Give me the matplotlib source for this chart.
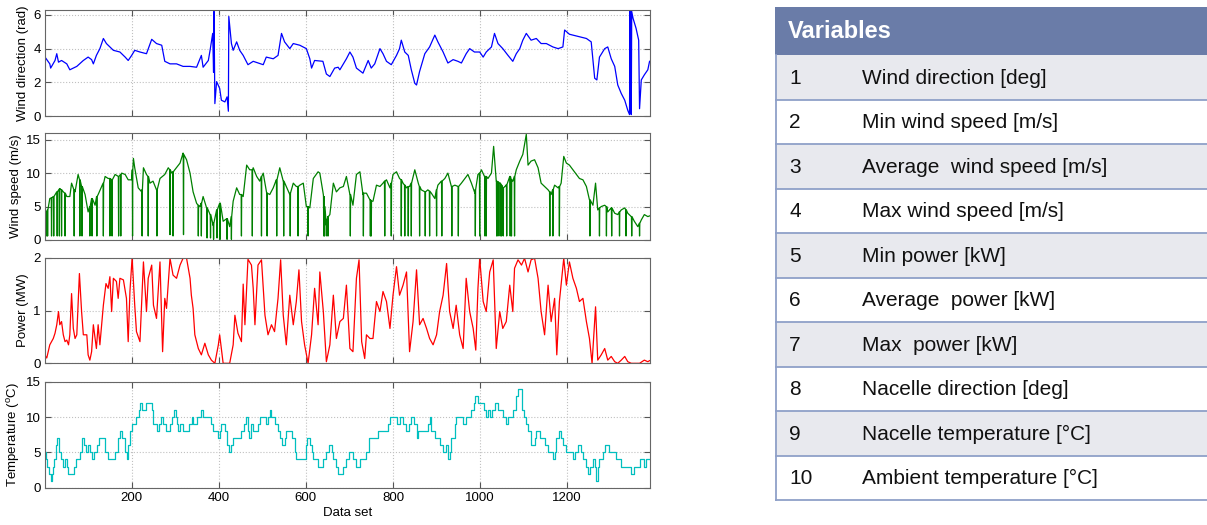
import numpy as np
import matplotlib
matplotlib.use("Agg")
import matplotlib.pyplot as plt
from matplotlib.patches import Rectangle

plt.rcParams['font.family'] = ['Liberation Sans', 'DejaVu Sans']
plt.rcParams['mathtext.fontset'] = 'custom'
plt.rcParams['mathtext.rm'] = 'Liberation Sans'

# ---- data: (data set index, value) ----
wind_dir = [(1,3.5),(12,3.1),(14,2.85),(24,3.3),(28,3.7),(32,3.2),(39,3.3),(51,3.1),(58,2.75),(74,2.95),
    (89,3.3),(100,3.5),(108,3.35),(112,3.1),(119,3.6),(127,4.0),(135,4.6),(142,4.3),(150,4.1),(158,3.9),
    (173,3.8),(185,3.5),(192,3.3),(200,3.6),(207,3.9),(219,3.8),(234,3.7),(246,4.55),(257,4.3),(269,4.2),
    (276,3.25),(288,3.1),(303,3.1),(318,2.95),(334,2.95),(349,2.9),(360,3.6),(364,2.9),(376,3.3),(380,3.9),
    (386,4.9),(388,2.6),(389,6.2),(391,0.75),(395,2.05),(402,1.65),(406,0.95),(414,0.85),(419,1.15),(422,0.3),
    (423,5.9),(429,4.3),(433,3.9),(441,4.4),(448,3.9),(456,3.6),(467,3.05),(479,3.25),(502,3.05),(509,3.5),
    (525,3.4),(536,3.6),(544,4.9),(551,4.4),(563,4.0),(571,4.3),(586,4.2),(601,4.0),(609,3.4),(613,2.85),
    (620,3.3),(639,3.25),(647,2.5),(655,2.35),(666,2.85),(674,2.9),(678,2.75),(693,3.4),(701,3.8),(708,3.5),
    (716,2.85),(731,2.55),(743,3.3),(750,2.85),(758,3.1),(770,4.0),(777,3.7),(785,3.25),(796,3.05),(808,3.6),
    (815,4.0),(819,4.5),(827,3.8),(835,3.6),(842,2.75),(850,1.95),(854,1.85),(861,2.65),(873,3.7),(884,4.1),
    (896,4.8),(903,4.4),(915,3.8),(926,3.15),(938,3.35),(949,3.25),(957,3.15),(968,3.7),(976,4.0),(987,3.8),
    (999,3.8),(1007,3.5),(1014,3.8),(1026,4.1),(1033,4.9),(1041,4.3),(1052,4.0),(1064,3.6),(1075,3.25),(1083,3.7),
    (1091,4.0),(1098,4.5),(1106,4.9),(1117,4.5),(1129,4.6),(1140,4.3),(1152,4.3),(1167,4.1),(1179,4.0),(1190,4.1),
    (1194,5.1),(1205,4.85),(1228,4.7),(1244,4.6),(1255,4.4),(1263,2.25),(1268,2.15),(1274,3.5),(1286,4.0),(1293,4.1),
    (1301,3.4),(1309,2.95),(1316,1.85),(1324,1.35),(1332,0.95),(1339,0.35),(1343,0.1),(1344,6.2),(1345,0.2),(1346,6.2),
    (1347,0.1),(1348,6.2),(1351,5.8),(1358,5.2),(1364,4.5),(1366,0.45),(1370,2.15),(1377,2.45),(1385,2.75),(1389,3.25)]

wind_speed = [(1,4.2),(3,4.0),(12,6.2),(20,6.5),(28,7.2),(35,7.7),(43,7.2),(51,6.5),(58,6.5),(62,8.5),
    (70,7.2),(77,9.8),(85,8.0),(93,6.8),(100,4.2),(108,6.2),(116,5.2),(123,6.8),(131,8.0),(139,9.5),
    (146,9.2),(154,9.0),(162,9.8),(169,9.5),(177,10.0),(185,9.8),(192,9.0),(200,9.0),(204,12.2),(207,10.8),
    (215,7.8),(223,7.2),(227,10.8),(234,9.8),(242,8.5),(249,8.8),(257,7.5),(265,9.2),(276,9.8),(284,10.8),
    (292,10.0),(299,10.5),(311,11.5),(318,13.0),(326,12.0),(334,10.0),(341,7.2),(349,5.5),(357,5.0),(364,6.5),
    (372,4.8),(380,3.8),(387,2.2),(395,4.5),(402,5.5),(410,2.8),(418,3.2),(425,2.0),(433,5.8),(441,7.8),
    (448,6.8),(456,6.5),(464,11.2),(471,10.5),(479,10.8),(487,9.5),(494,8.8),(502,10.0),(510,7.0),(517,6.8),
    (525,7.8),(532,9.0),(540,10.8),(548,8.8),(555,8.0),(563,6.8),(571,8.5),(578,8.0),(586,8.2),(594,8.5),
    (601,5.0),(609,4.8),(617,9.2),(628,10.2),(632,10.0),(640,6.8),(647,2.2),(655,3.8),(663,8.5),(670,7.2),
    (678,7.8),(686,8.0),(693,9.5),(701,6.8),(708,5.2),(716,9.8),(724,10.2),(731,6.8),(739,7.0),(747,6.0),
    (754,5.8),(762,8.2),(770,8.0),(777,8.5),(785,9.0),(793,7.8),(800,9.8),(808,10.2),(815,9.2),(823,8.5),
    (831,7.8),(838,8.0),(850,10.5),(858,8.5),(865,7.5),(873,7.2),(880,7.5),(888,7.0),(896,6.2),(903,8.2),
    (911,8.8),(919,9.2),(926,10.0),(934,8.0),(942,8.2),(949,8.0),(957,8.5),(965,9.2),(972,9.8),(980,8.5),
    (988,7.0),(995,9.8),(1003,10.5),(1010,9.5),(1018,9.2),(1026,10.0),(1031,14.0),(1037,8.8),(1045,8.5),(1052,7.8),
    (1060,8.2),(1068,9.5),(1075,8.8),(1083,10.5),(1091,11.8),(1098,12.8),(1106,15.8),(1110,11.2),(1117,11.8),(1125,12.0),
    (1133,10.8),(1140,8.5),(1148,8.0),(1156,7.5),(1163,6.8),(1171,8.2),(1179,7.8),(1186,8.5),(1192,12.5),(1198,11.5),
    (1205,11.2),(1213,10.5),(1221,9.8),(1228,9.2),(1236,9.0),(1244,8.0),(1251,6.0),(1259,5.2),(1265,8.5),(1270,4.5),
    (1278,5.0),(1286,5.2),(1293,4.2),(1301,4.8),(1309,4.0),(1316,3.8),(1324,4.5),(1332,4.8),(1339,4.0),(1347,3.5),
    (1354,2.8),(1362,2.0),(1370,3.0),(1377,3.8),(1385,3.5),(1389,3.6)]

# short drop-outs of the wind speed signal: (index, level around it, lowest value)
speed_drops = [(5,4.2,0.6),(7,4.5,0.6),(16,6.3,0.6),(21,6.5,0.6),(29,7.2,0.6),(34,7.6,0.6),(39,7.5,0.6),
    (47,7.0,0.6),(68,7.5,0.6),(81,9.0,0.6),(86,8.0,0.6),(104,5.0,0.6),(109,6.2,0.6),(120,6.5,0.6),
    (135,8.5,0.6),(150,9.2,0.6),(155,9.0,0.6),(170,9.5,0.6),(175,9.8,0.6),(202,10.5,0.6),(224,7.5,0.6),
    (238,9.5,0.6),(258,7.5,0.6),(288,10.5,0.8),(295,10.2,0.6),(319,12.8,0.8),(353,5.2,0.6),(360,5.5,0.6),
    (373,4.8,0.3),(381,3.8,0.3),(388,2.5,0.1),(396,4.5,0.3),(403,5.5,0.1),(419,3.2,0.1),(429,3.5,0.1),
    (452,6.8,0.6),(477,10.5,0.6),(498,9.5,0.6),(511,7.0,0.6),(533,9.0,0.6),(549,8.8,0.6),(564,7.0,0.6),
    (582,8.0,0.6),(605,5.0,0.6),(641,6.5,0.6),(643,5.0,0.6),(648,3.0,0.6),(651,3.5,0.6),(702,6.8,0.6),
    (732,7.0,0.6),(748,6.0,0.6),(750,5.8,0.6),(781,8.8,0.6),(796,8.5,0.6),(819,9.0,0.6),(827,8.2,0.6),
    (835,8.0,0.6),(842,8.5,0.6),(861,8.0,0.6),(874,7.2,0.6),(884,7.3,0.6),(900,7.5,0.6),(912,8.8,0.6),
    (935,8.0,0.6),(950,8.0,0.6),(989,7.5,0.6),(999,10.0,0.6),(1011,9.5,0.6),(1014,9.5,0.6),(1038,8.8,0.6),
    (1041,8.7,0.6),(1046,8.5,0.6),(1049,8.2,0.6),(1053,7.8,0.6),(1061,8.3,0.6),(1069,9.5,0.6),(1072,9.0,0.6),
    (1079,9.5,0.6),(1160,7.2,0.6),(1167,7.5,0.6),(1182,8.0,0.6),(1252,6.0,0.6),(1274,4.8,0.6),(1290,5.0,0.6),
    (1302,4.8,0.6),(1320,4.2,0.6),(1335,4.5,0.6),(1348,3.5,0.6),(1366,2.5,0.6)]

power = [(1,0.15),(5,0.1),(12,0.35),(20,0.47),(24,0.57),(28,0.73),(32,0.98),(35,0.73),(39,0.79),(43,0.54),
    (47,0.41),(51,0.44),(55,0.35),(58,0.54),(62,1.32),(66,0.66),(70,0.47),(74,0.54),(80,1.70),(85,0.98),
    (89,0.54),(97,0.54),(100,0.16),(104,0.06),(108,0.22),(112,0.73),(119,0.28),(123,0.73),(127,0.35),(135,1.10),
    (141,1.51),(146,1.42),(150,1.64),(154,0.98),(158,1.61),(165,1.55),(169,1.23),(173,1.61),(181,1.58),(188,1.23),
    (192,0.41),(196,1.36),(201,2.0),(207,1.10),(211,0.60),(219,0.41),(227,1.92),(234,0.98),(238,1.61),(246,1.86),
    (250,1.10),(257,0.85),(265,1.92),(271,0.22),(276,1.23),(280,1.04),(288,1.99),(295,1.67),(303,1.61),(311,1.86),
    (318,1.99),(326,1.99),(334,1.61),(337,1.29),(341,1.04),(345,0.54),(353,0.28),(360,0.16),(368,0.38),(376,0.16),
    (383,0.06),(391,0.0),(399,0.35),(402,0.54),(410,0.0),(425,0.0),(433,0.35),(437,0.91),(444,0.57),(452,0.41),
    (456,1.50),(460,0.73),(467,1.97),(475,1.86),(479,1.42),(483,0.73),(490,1.86),(498,1.96),(506,0.91),(513,0.54),
    (521,0.73),(528,0.60),(536,1.23),(542,1.96),(548,0.91),(555,0.35),(563,1.29),(571,0.73),(578,1.17),(584,1.77),
    (590,0.79),(597,0.35),(605,0.0),(613,0.54),(620,1.42),(628,0.73),(632,1.73),(640,0.98),(647,0.03),(655,0.35),
    (663,1.29),(670,0.47),(678,0.79),(686,0.85),(693,1.48),(701,0.28),(708,0.22),(716,1.61),(722,1.96),(728,0.41),
    (735,0.09),(739,0.54),(747,0.47),(754,0.47),(762,1.17),(770,0.98),(777,1.36),(785,1.17),(793,0.66),(800,1.29),
    (808,1.83),(815,1.29),(823,1.48),(831,1.73),(838,0.22),(846,0.79),(854,1.77),(861,0.73),(869,0.85),(877,0.66),
    (884,0.47),(892,0.35),(900,0.54),(907,0.98),(915,1.29),(923,1.89),(930,0.98),(938,0.66),(945,1.10),(953,0.54),
    (961,0.28),(968,1.61),(976,0.98),(984,0.66),(990,0.25),(995,1.42),(999,1.99),(1007,1.17),(1014,0.98),(1022,1.73),
    (1030,1.96),(1037,0.28),(1045,0.98),(1052,0.66),(1060,0.79),(1068,1.48),(1075,0.98),(1079,1.80),(1087,1.96),(1095,1.86),
    (1102,1.99),(1110,1.73),(1117,1.96),(1125,1.99),(1133,1.61),(1140,0.98),(1148,0.54),(1156,1.48),(1163,0.79),(1171,1.23),
    (1176,0.16),(1182,1.17),(1189,1.73),(1192,1.99),(1198,1.48),(1205,1.92),(1213,1.61),(1221,1.42),(1228,1.17),(1236,1.23),
    (1244,0.79),(1251,0.47),(1257,0.0),(1260,0.41),(1265,1.07),(1270,0.06),(1278,0.16),(1286,0.28),(1293,0.06),(1301,0.13),
    (1309,0.03),(1316,0.0),(1324,0.06),(1332,0.13),(1339,0.03),(1347,0.0),(1366,0.0),(1377,0.06),(1385,0.03),(1389,0.05)]

temperature = [(1,5),(3,4),(6,3),(11,2),(14,1),(16,2),(20,3),(22,4),(26,6),(28,7),(34,5),(38,4),(43,3),(48,4),
    (51,3),(53,2),(68,3),(72,4),(81,5),(87,7),(90,6),(95,5),(100,6),(104,5),(108,4),(113,5),(120,6),(126,7),
    (139,5),(145,4),(162,5),(169,7),(173,8),(177,7),(185,5),(190,4),(192,6),(196,8),(201,9),(209,10),(217,11),
    (220,12),(223,11),(233,12),(246,11),(249,9),(257,8),(263,9),(267,10),(272,9),(278,8),(288,9),(293,10),(298,11),
    (301,10),(303,9),(307,8),(311,9),(318,8),(332,9),(338,10),(341,9),(349,10),(360,11),(364,10),(383,9),(387,8),
    (399,7),(402,8),(406,9),(414,8),(419,6),(423,5),(428,6),(433,7),(452,8),(458,9),(462,10),(466,8),(470,7),
    (473,8),(475,9),(479,8),(490,9),(494,10),(509,9),(513,10),(517,11),(521,10),(528,9),(535,8),(540,7),(546,6),
    (551,7),(555,8),(569,7),(574,5),(578,4),(600,6),(603,7),(609,6),(613,5),(617,4),(628,3),(639,4),(647,5),
    (653,6),(659,5),(662,4),(670,3),(674,2),(686,3),(693,4),(699,5),(708,4),(716,3),(724,4),(739,5),(745,7),
    (766,8),(789,9),(793,10),(808,9),(815,10),(822,9),(829,8),(837,9),(842,10),(848,9),(854,7),(858,8),(880,9),
    (884,10),(888,8),(896,7),(907,6),(915,5),(921,6),(926,4),(930,5),(934,7),(942,9),(945,10),(961,9),(968,10),
    (980,11),(985,12),(988,13),(995,12),(1010,11),(1014,10),(1018,11),(1022,10),(1028,11),(1033,12),(1041,11),(1052,10),
    (1059,9),(1064,10),(1075,11),(1083,13),(1087,14),(1095,13),(1096,11),(1100,10),(1106,9),(1110,8),(1117,6),(1125,7),
    (1129,8),(1137,7),(1148,6),(1156,5),(1167,4),(1171,5),(1175,7),(1181,8),(1186,7),(1190,6),(1198,5),(1213,4),
    (1217,5),(1225,6),(1232,5),(1236,4),(1244,3),(1247,2),(1253,3),(1259,4),(1263,3),(1267,1),(1270,3),(1274,4),
    (1282,5),(1286,6),(1297,5),(1312,4),(1324,3),(1347,2),(1354,3),(1366,4),(1377,3),(1381,4),(1389,4)]

var_numbers = ['1', '2', '3', '4', '5', '6', '7', '8', '9', '10']
var_names = ['Wind direction [deg]', 'Min wind speed [m/s]', 'Average  wind speed [m/s]',
             'Max wind speed [m/s]', 'Min power [kW]', 'Average  power [kW]', 'Max  power [kW]',
             'Nacelle direction [deg]', 'Nacelle temperature [\u00b0C]', 'Ambient temperature [\u00b0C]']

# ---- build series ----
wd_x, wd_y = np.array(wind_dir).T
# each drop-out is a one-sample dip: level -> low -> level
drops = []
for xd, lvl, low in speed_drops:
    drops += [(xd - 0.6, lvl), (xd, low), (xd + 0.6, lvl)]
ws_all = np.array(wind_speed + drops)
ws_all = ws_all[np.argsort(ws_all[:, 0], kind='stable')]
pw_x, pw_y = np.array(power).T
tp_x, tp_y = np.array(temperature).T

W, H = 1207, 525
fig = plt.figure(figsize=(W / 100, H / 100), dpi=100)

panels = [
    (wd_x, wd_y, '#0000ff', 'Wind direction (rad)', (0, 6.2832), [0, 2, 4, 6], 10, 116.3, False),
    (ws_all[:, 0], ws_all[:, 1], '#008000', 'Wind speed (m/s)', (0, 16), [0, 5, 10, 15], 133, 240, False),
    (pw_x, pw_y, '#ff0000', 'Power (MW)', (0, 2), [0, 1, 2], 257.7, 363.3, False),
    (tp_x, tp_y, '#00bfbf', 'Temperature ($^{\\mathregular{o}}$C)', (0, 15), [0, 5, 10, 15], 381.7, 487.7, True),
]

for x, y, col, lab, ylim, yt, top, bot, is_step in panels:
    ax = fig.add_axes([45 / W, 1 - bot / H, 605 / W, (bot - top) / H])
    if is_step:
        ax.step(x, y, where='post', color=col, lw=0.9)
    else:
        ax.plot(x, y, color=col, lw=0.9)
    ax.set_xlim(1, 1390)
    ax.set_ylim(*ylim)
    ax.set_yticks(yt)
    ax.set_xticks(range(200, 1400, 200))
    ax.grid(True, ls=':', color='#c0c0c0', lw=0.8)
    ax.tick_params(direction='in', top=True, right=True, length=4, width=0.8,
                   color='#555555', labelsize=9.5, pad=3)
    for s in ax.spines.values():
        s.set_color('#666666')
        s.set_linewidth(0.8)
    ax.set_ylabel(lab, fontsize=9.5, labelpad=3)
    if is_step:
        ax.set_xlabel('Data set', fontsize=9.5, labelpad=2)
    else:
        ax.set_xticklabels([])

# ---- variables table ----
tb = fig.add_axes([775 / W, 0, 1 - 775 / W, 1])
tb.set_xlim(775, W)
tb.set_ylim(H, 0)
tb.axis('off')

head_top, head_bot, row_h = 7, 55, 44.5
tb.add_patch(Rectangle((775, head_top), W - 775, head_bot - head_top, color='#6a7ca8', lw=0))
tb.text(788, (head_top + head_bot) / 2 + 1, 'Variables', color='white', fontsize=17,
        fontweight='bold', va='center', ha='left')
for i, (num, name) in enumerate(zip(var_numbers, var_names)):
    y0 = head_bot + i * row_h
    fc = '#e8e9ee' if i % 2 == 0 else 'white'
    tb.add_patch(Rectangle((775, y0), W - 775, row_h, color=fc, lw=0))
    tb.plot([775, W], [y0 + row_h, y0 + row_h], color='#8fa0c8', lw=1.3)
    tb.text(789, y0 + row_h / 2 + 1, num, fontsize=15, va='center', ha='left', color='#111111')
    tb.text(862, y0 + row_h / 2 + 1, name, fontsize=15, va='center', ha='left', color='#111111')
tb.plot([775.7, 775.7], [head_bot, head_bot + 10 * row_h], color='#8fa0c8', lw=1.3)

fig.savefig('out.png', dpi=100)
